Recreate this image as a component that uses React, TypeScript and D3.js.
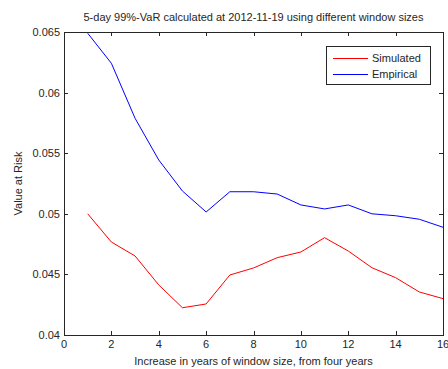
import React from "react";
import * as d3 from "d3";

// Window-size increments (years added to a four-year window)
const windowYears = [1, 2, 3, 4, 5, 6, 7, 8, 9, 10, 11, 12, 13, 14, 15, 16];
// 5-day 99% VaR estimates
const simulatedVaR = [0.0500, 0.04767, 0.04652, 0.04413, 0.04225, 0.04256, 0.04495, 0.04553, 0.04638, 0.04685, 0.04803, 0.04693, 0.04555, 0.04473, 0.04355, 0.0430];
const empiricalVaR = [0.0649, 0.06242, 0.05788, 0.05444, 0.05188, 0.05015, 0.05182, 0.05182, 0.05163, 0.05073, 0.0504, 0.05073, 0.0500, 0.04984, 0.04955, 0.04889];
const xTicks = [0, 2, 4, 6, 8, 10, 12, 14, 16];
const yTicks = [0.04, 0.045, 0.05, 0.055, 0.06, 0.065];
const seriesNames = ["Simulated", "Empirical"];
const seriesColors = ["#ff0000", "#0000ff"];

const W = 448;
const H = 369;
const left = 64;
const right = 443;
const top = 32;
const bottom = 335;
const font = "'Liberation Sans', Arial, sans-serif";
const textColor = "#262626";
const axisColor = "#262626";

export default function App() {
  const x = d3.scaleLinear().domain([0, 16]).range([left, right]);
  const y = d3.scaleLinear().domain([0.04, 0.065]).range([bottom, top]);
  const line = d3
    .line<number>()
    .x((_, i) => x(windowYears[i]))
    .y((d) => y(d));
  const series = [simulatedVaR, empiricalVaR];
  const tickLen = 4;

  return (
    <div style={{ position: "fixed", left: 0, top: 0, width: W, height: H, background: "#fff" }}>
      <svg width={W} height={H} style={{ display: "block" }} fontFamily={font}>
        <rect x={0} y={0} width={W} height={H} fill="#fff" />
        <text x={(left + right) / 2} y={21} textAnchor="middle" fontSize={11} fill={textColor}>
          5-day 99%-VaR calculated at 2012-11-19 using different window sizes
        </text>

        {series.map((s, k) => (
          <path key={k} d={line(s) ?? ""} fill="none" stroke={seriesColors[k]} strokeWidth={1} />
        ))}

        {/* axes box */}
        <rect
          x={left + 0.5}
          y={top + 0.5}
          width={right - left}
          height={bottom - top}
          fill="none"
          stroke={axisColor}
          strokeWidth={1}
        />

        {xTicks.map((t) => {
          const px = Math.round(x(t)) + 0.5;
          return (
            <g key={`x${t}`}>
              <line x1={px} x2={px} y1={bottom} y2={bottom - tickLen} stroke={axisColor} />
              <line x1={px} x2={px} y1={top} y2={top + tickLen} stroke={axisColor} />
              <text x={x(t)} y={348} textAnchor="middle" fontSize={11} fill={textColor}>
                {t}
              </text>
            </g>
          );
        })}

        {yTicks.map((t) => {
          const py = Math.round(y(t)) + 0.5;
          return (
            <g key={`y${t}`}>
              <line x1={left} x2={left + tickLen} y1={py} y2={py} stroke={axisColor} />
              <line x1={right} x2={right - tickLen} y1={py} y2={py} stroke={axisColor} />
              <text x={left - 4} y={y(t) + 4} textAnchor="end" fontSize={11} fill={textColor}>
                {t}
              </text>
            </g>
          );
        })}

        <text x={(left + right) / 2} y={365} textAnchor="middle" fontSize={11} fill={textColor}>
          Increase in years of window size, from four years
        </text>
        <text
          transform={`translate(22, ${(top + bottom) / 2}) rotate(-90)`}
          textAnchor="middle"
          fontSize={11}
          fill={textColor}
        >
          Value at Risk
        </text>

        {/* legend */}
        <g>
          <rect x={326.5} y={46.5} width={104} height={38} fill="#fff" stroke={axisColor} />
          {seriesNames.map((name, i) => (
            <g key={name}>
              <line x1={333} x2={368} y1={58.5 + i * 16} y2={58.5 + i * 16} stroke={seriesColors[i]} />
              <text x={372} y={62 + i * 16} fontSize={11} fill={textColor}>
                {name}
              </text>
            </g>
          ))}
        </g>
      </svg>
    </div>
  );
}
